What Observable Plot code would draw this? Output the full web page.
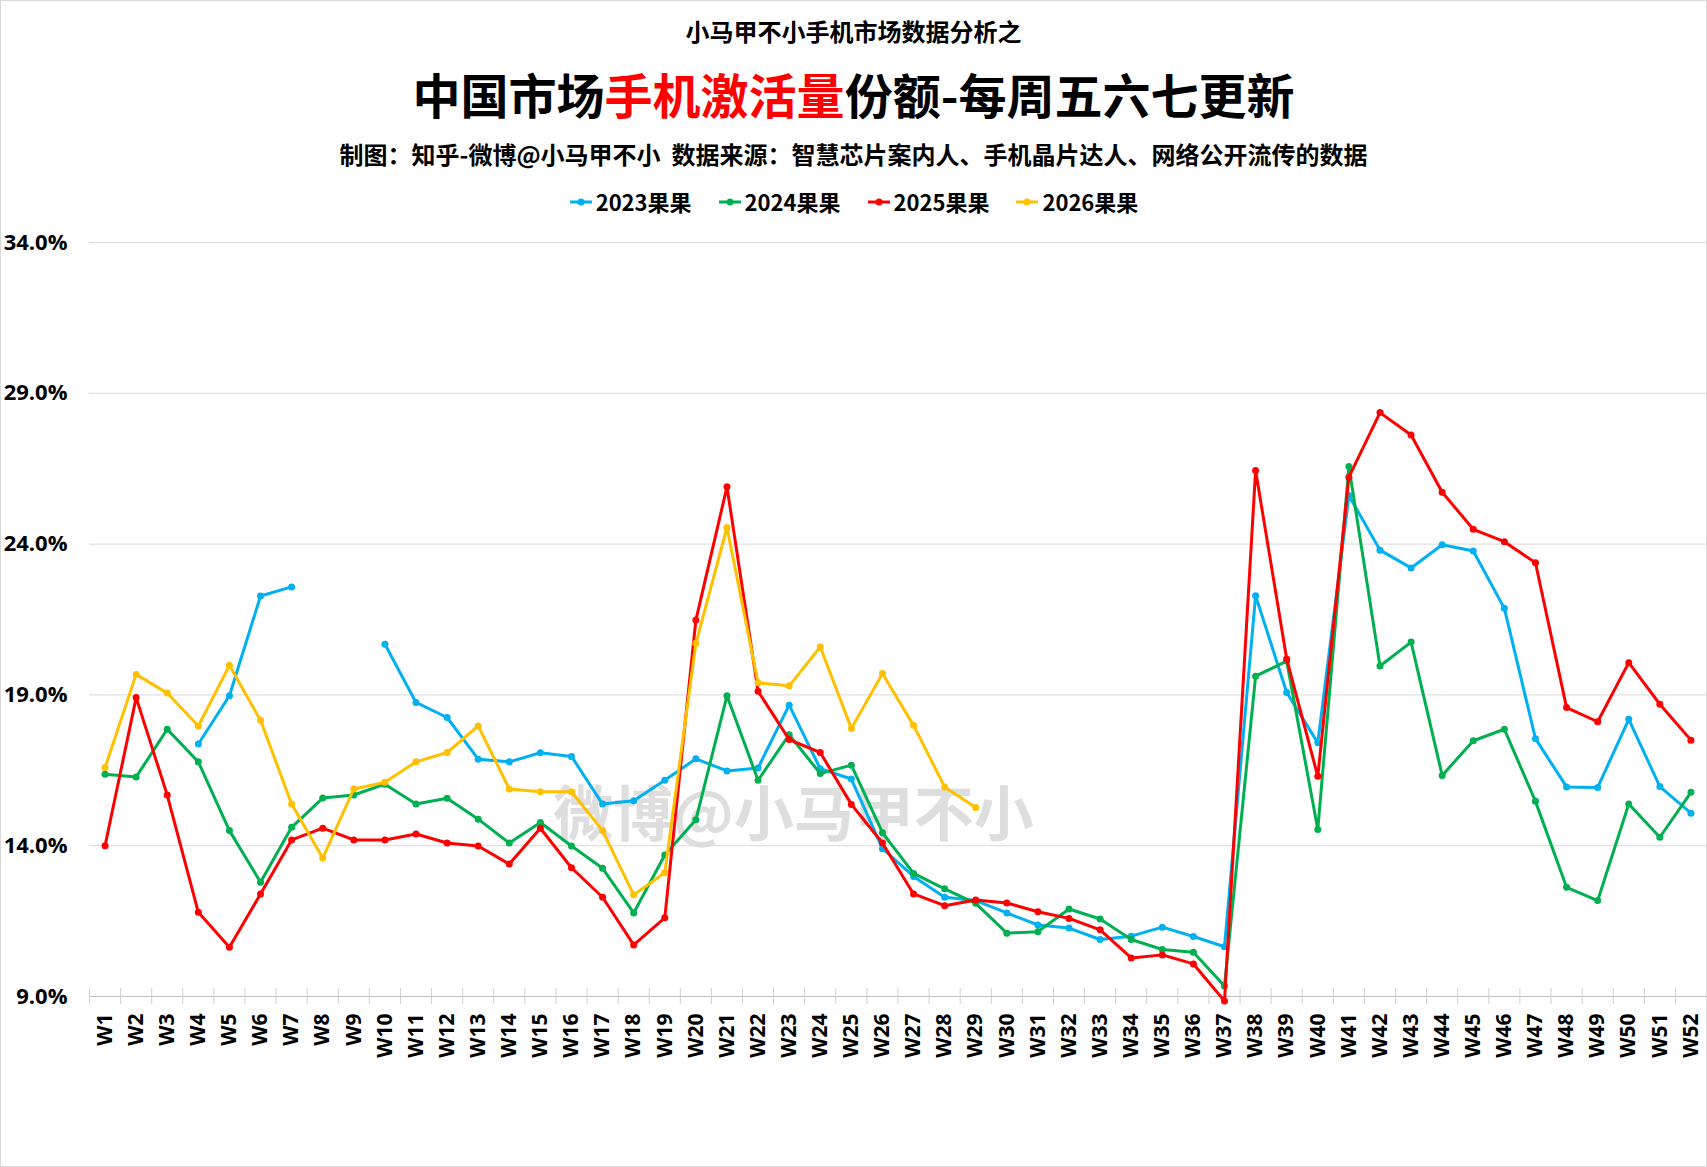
<!DOCTYPE html>
<html>
<head>
<meta charset="utf-8">
<script src="https://cdn.jsdelivr.net/npm/d3@7"></script>
<script src="https://cdn.jsdelivr.net/npm/@observablehq/plot@0.6"></script>
<style>
  html, body { margin: 0; padding: 0; background: #fff; }
  #page { position: relative; width: 1707px; height: 1167px; overflow: hidden;
          font-family: "Noto Sans CJK SC", "Noto Sans", sans-serif; }
  .hline { position: absolute; left: 0; width: 1707px; text-align: center;
           font-weight: 700; color: #000; white-space: pre; }
  #kicker { top: 19px; font-size: 24px; line-height: 24px; }
  #title { top: 69px; font-size: 48px; line-height: 48px; }
  #title .hot { color: #ff0000; }
  #credit { top: 142px; font-size: 24px; line-height: 24px; }
  #legend { position: absolute; top: 190px; left: 0; width: 1707px; display: flex;
            justify-content: center; gap: 26px; font-weight: 700; font-size: 22px; line-height: 23px; }
  #legend .item { display: flex; align-items: center; gap: 3px; }
  #watermark { position: absolute; left: 0; width: 1707px; top: 778px; text-align: center;
               font-size: 60px; line-height: 64px; font-weight: 700;
               color: #dedede; z-index: 0; }
  #watermark span { position: relative; left: -60px; }
  #chart { position: absolute; top: 225px; left: 0; z-index: 1; }
  #frame { position: absolute; inset: 0; border: 1px solid #d9d9d9; box-sizing: border-box;
           pointer-events: none; z-index: 2; }
</style>
</head>
<body>
<div id="page">
  <div class="hline" id="kicker">小马甲不小手机市场数据分析之</div>
  <div class="hline" id="title">中国市场<span class="hot">手机激活量</span>份额-每周五六七更新</div>
  <div class="hline" id="credit">制图：知乎-微博@小马甲不小  数据来源：智慧芯片案内人、手机晶片达人、网络公开流传的数据</div>
  <div id="legend"></div>
  <div id="watermark"><span>微博@小马甲不小</span></div>
  <div id="chart"></div>
  <div id="frame"></div>
</div>
<script>
// Week categories along the x axis
const weeks = ["W1","W2","W3","W4","W5","W6","W7","W8","W9","W10",
  "W11","W12","W13","W14","W15","W16","W17","W18","W19","W20",
  "W21","W22","W23","W24","W25","W26","W27","W28","W29","W30",
  "W31","W32","W33","W34","W35","W36","W37","W38","W39","W40",
  "W41","W42","W43","W44","W45","W46","W47","W48","W49","W50",
  "W51","W52"];

// Weekly activation share (%) per year; null = no data that week
const share2023 = [null, null, null, 17.37, 18.97, 22.28, 22.58, null, null, 20.68,
  18.75, 18.25, 16.87, 16.78, 17.08, 16.96, 15.38, 15.49, 16.17, 16.88,
  16.48, 16.58, 18.66, 16.55, 16.21, 13.90, 12.98, 12.29, 12.18, 11.77,
  11.37, 11.27, 10.89, 11.00, 11.30, 10.99, 10.65, 22.29, 19.08, 17.41,
  25.61, 23.80, 23.21, 23.98, 23.77, 21.87, 17.55, 15.95, 15.93, 18.19,
  15.96, 15.08];

const share2024 = [16.37, 16.28, 17.86, 16.78, 14.50, 12.79, 14.61, 15.58, 15.68, 16.04,
  15.38, 15.57, 14.88, 14.09, 14.77, 13.99, 13.25, 11.77, 13.69, 14.86,
  18.97, 16.17, 17.68, 16.39, 16.67, 14.43, 13.08, 12.57, 12.09, 11.10,
  11.15, 11.90, 11.57, 10.89, 10.56, 10.47, 9.35, 19.62, 20.12, 14.54,
  26.57, 19.96, 20.75, 16.33, 17.48, 17.86, 15.47, 12.62, 12.18, 15.38,
  14.28, 15.77];

const share2025 = [14.00, 18.91, 15.68, 11.79, 10.63, 12.40, 14.19, 14.58, 14.19, 14.19,
  14.39, 14.09, 13.99, 13.39, 14.58, 13.27, 12.29, 10.71, 11.61, 21.48,
  25.90, 19.12, 17.52, 17.09, 15.37, 14.09, 12.40, 12.01, 12.20, 12.10,
  11.81, 11.59, 11.21, 10.28, 10.38, 10.08, 8.85, 26.44, 20.19, 16.30,
  26.22, 28.36, 27.62, 25.72, 24.49, 24.08, 23.38, 18.58, 18.11, 20.07,
  18.69, 17.50];

const share2026 = [16.59, 19.68, 19.06, 17.97, 19.98, 18.16, 15.38, 13.59, 15.88, 16.10,
  16.78, 17.09, 17.97, 15.88, 15.79, 15.79, 14.50, 12.37, 13.10, 20.71,
  24.55, 19.40, 19.30, 20.59, 17.89, 19.71, 17.99, 15.95, 15.27, null,
  null, null, null, null, null, null, null, null, null, null,
  null, null, null, null, null, null, null, null, null, null,
  null, null];

// Series names, in drawing order
const seriesNames = ["2023果果", "2024果果", "2025果果", "2026果果"];
const seriesValues = [share2023, share2024, share2025, share2026];
const seriesColors = ["#00b0f0", "#00b050", "#ff0000", "#ffc000"];

// Value axis ticks
const yTicks = [9, 14, 19, 24, 29, 34];

// Long-format rows built from the arrays above
const rows = seriesNames.flatMap((name, s) =>
  seriesValues[s].map((v, i) => ({series: name, week: i + 1, value: v})));

const weekIndex = weeks.map((_, i) => i + 1);
const weekBounds = d3.range(0.5, weeks.length + 1, 1);
const yMin = yTicks[0];

const seriesMarks = seriesNames.flatMap((name, s) => {
  const data = rows.filter(d => d.series === name);
  return [
    Plot.line(data, {x: "week", y: "value", stroke: seriesColors[s], strokeWidth: 3,
                     strokeLinejoin: "round", strokeLinecap: "round"}),
    Plot.dot(data.filter(d => d.value != null),
             {x: "week", y: "value", r: 3.5, fill: seriesColors[s], stroke: "none"})
  ];
});

const chart = Plot.plot({
  width: 1707,
  height: 942,
  marginLeft: 89,
  marginRight: 1,
  marginTop: 17,
  marginBottom: 171,
  x: {domain: [0.5, weeks.length + 0.5], label: null},
  y: {domain: [yMin, yTicks[yTicks.length - 1]], label: null},
  style: {background: "transparent", overflow: "visible", fontFamily: "'Open Sans', 'DejaVu Sans', sans-serif"},
  marks: [
    Plot.gridY(yTicks, {stroke: "#d9d9d9", strokeOpacity: 1, strokeWidth: 1}),
    Plot.ruleY([yMin], {stroke: "#bfbfbf", strokeWidth: 1}),
    Plot.ruleX(weekBounds, {x: d => d, y1: yMin, y2: yMin, insetTop: -8, insetBottom: -8,
                            stroke: "#d0d0d0", strokeWidth: 1}),
    Plot.axisY(yTicks, {tickSize: 0, tickPadding: 22, tickFormat: d => d.toFixed(1) + "%",
                        fontSize: 22, fontWeight: "bold", fill: "#000", label: null}),
    Plot.axisX(weekIndex, {tickSize: 0, tickPadding: 17, tickRotate: -90,
                           tickFormat: i => weeks[i - 1], fontSize: 21, fontWeight: "bold",
                           fill: "#000", label: null}),
    ...seriesMarks
  ]
});
document.getElementById("chart").appendChild(chart);

// Legend: a short line with a dot, then the series name
const legend = d3.select("#legend");
seriesNames.forEach((name, s) => {
  const item = legend.append("div").attr("class", "item");
  const sw = item.append("svg").attr("width", 24).attr("height", 12);
  sw.append("line").attr("x1", 1).attr("x2", 23).attr("y1", 6).attr("y2", 6)
    .attr("stroke", seriesColors[s]).attr("stroke-width", 3);
  sw.append("circle").attr("cx", 12).attr("cy", 6).attr("r", 3.5).attr("fill", seriesColors[s]);
  item.append("span").text(name);
});
</script>
</body>
</html>
